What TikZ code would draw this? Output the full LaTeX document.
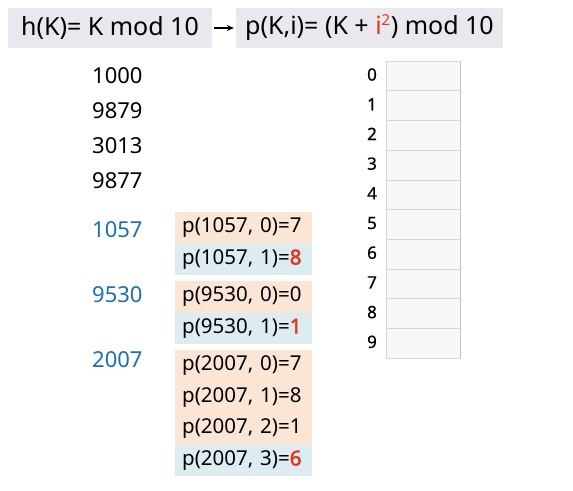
\documentclass[tikz,border=0pt]{standalone}
\usepackage{fontspec}
\setmainfont{Noto Sans}
\newfontfamily\hitfont{Noto Sans}[FakeBold=2.5]
\newfontfamily\idxfont{Noto Sans}[FakeBold=0.6]
\usetikzlibrary{arrows.meta}
\definecolor{headColor}{RGB}{232,232,238}
\definecolor{keyColor}{RGB}{26,111,181}
\definecolor{hitColor}{RGB}{232,50,30}
\definecolor{probeColor}{RGB}{251,230,214}
\definecolor{lastColor}{RGB}{221,236,241}
\definecolor{cellColor}{RGB}{248,248,250}
\definecolor{cellLine}{RGB}{214,214,218}
\definecolor{cellEdge}{RGB}{196,196,200}
\newcommand{\hit}[1]{\textcolor{hitColor}{\hitfont #1}}
\begin{document}
\begin{tikzpicture}[x=1pt,y=-1pt,
  headbox/.style={fill=headColor,inner sep=0pt,minimum height=40pt,font=\fontsize{25}{29}\selectfont},
  keytext/.style={anchor=west,inner sep=0pt,font=\fontsize{22}{26}\selectfont},
  probe/.style={anchor=west,inner xsep=7pt,inner ysep=0pt,minimum width=137pt,minimum height=31.5pt,text width=123pt,align=left,font=\fontsize{20.5}{24}\selectfont},
  cell/.style={draw=cellLine,fill=cellColor,line width=0.8pt,minimum width=74pt,minimum height=29.7pt,inner sep=0pt},
  idx/.style={inner sep=0pt,font=\idxfont\fontsize{17}{20}\selectfont}]
\path[use as bounding box,fill=white] (0,0) rectangle (573,490);

% hash functions
\node[headbox,minimum width=204pt] (hfun) at (110,28) {h(K)= K mod 10};
\node[headbox,minimum width=267pt] (pfun) at (369.5,28) {p(K,i)= (K + \textcolor{hitColor}{i\textsuperscript{\fontsize{15}{18}\selectfont 2}}) mod 10};
\draw[line width=1.4pt,-{Stealth[length=7pt,width=6pt]}] ([xshift=2pt]hfun.east) -- ([xshift=-2pt]pfun.west);

% keys without collision
\node[keytext] (k1000) at (92,76) {1000};
\node[keytext] (k9879) at (92,111) {9879};
\node[keytext] (k3013) at (92,146) {3013};
\node[keytext] (k9877) at (92,181) {9877};

% keys with collision
\node[keytext,text=keyColor] (k1057) at (92,230) {1057};
\node[keytext,text=keyColor] (k9530) at (92,295) {9530};
\node[keytext,text=keyColor] (k2007) at (92,360) {2007};

% probe sequences
\node[probe,fill=probeColor] (p1057a) at (175,228) {p(1057, 0)=7};
\node[probe,fill=lastColor] (p1057b) at (175,259.5) {p(1057, 1)=\hit{8}};

\node[probe,fill=probeColor] (p9530a) at (175,297) {p(9530, 0)=0};
\node[probe,fill=lastColor] (p9530b) at (175,328.5) {p(9530, 1)=\hit{1}};

\node[probe,fill=probeColor] (p2007a) at (175,366) {p(2007, 0)=7};
\node[probe,fill=probeColor] (p2007b) at (175,397.5) {p(2007, 1)=8};
\node[probe,fill=probeColor] (p2007c) at (175,429) {p(2007, 2)=1};
\node[probe,fill=lastColor] (p2007d) at (175,460.5) {p(2007, 3)=\hit{6}};

% hash table
\foreach \i in {0,...,9} {
  \node[cell] (cell\i) at (423,{76+29.7*\i}) {};
  \draw[cellEdge,line width=1pt] (cell\i.north east) -- (cell\i.south east);
  \node[idx] (idx\i) at (372,{74.5+29.7*\i}) {\i};
}
\end{tikzpicture}
\end{document}
